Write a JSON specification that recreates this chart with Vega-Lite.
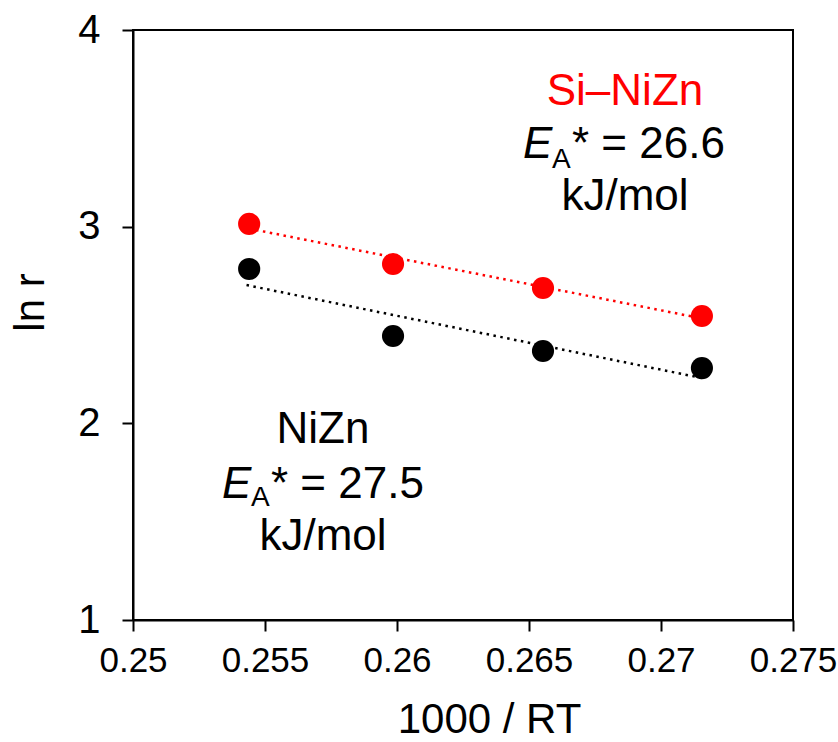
{
  "$schema": "https://vega.github.io/schema/vega-lite/v6.json",
  "width": 660,
  "height": 590,
  "autosize": {"type": "none"},
  "padding": {"left": 133, "top": 30, "right": 45, "bottom": 122},
  "background": "white",
  "config": {
    "font": "Liberation Sans",
    "view": {"stroke": "black", "strokeWidth": 2},
    "axis": {
      "grid": false,
      "domainColor": "black",
      "domainWidth": 2,
      "tickColor": "black",
      "tickWidth": 2,
      "tickSize": 11,
      "labelColor": "black",
      "titleColor": "black",
      "labelFont": "Liberation Sans",
      "titleFont": "Liberation Sans",
      "titleFontWeight": "normal",
      "labelFlush": false,
      "labelOverlap": false,
      "labelBound": false
    }
  },
  "datasets": {
    "points": [
      {"x": 0.2544, "lnr": 3.014, "series": "Si–NiZn"},
      {"x": 0.25985, "lnr": 2.81, "series": "Si–NiZn"},
      {"x": 0.26553, "lnr": 2.688, "series": "Si–NiZn"},
      {"x": 0.27155, "lnr": 2.546, "series": "Si–NiZn"},
      {"x": 0.2544, "lnr": 2.785, "series": "NiZn"},
      {"x": 0.25985, "lnr": 2.444, "series": "NiZn"},
      {"x": 0.26553, "lnr": 2.368, "series": "NiZn"},
      {"x": 0.27155, "lnr": 2.281, "series": "NiZn"}
    ],
    "fits": [
      {"x": 0.2544, "lnr": 2.99, "series": "Si–NiZn"},
      {"x": 0.2716, "lnr": 2.532, "series": "Si–NiZn"},
      {"x": 0.2543, "lnr": 2.703, "series": "NiZn"},
      {"x": 0.2716, "lnr": 2.229, "series": "NiZn"}
    ],
    "labels": [
      {"x": 0.268636, "lnr": 3.619, "text": "Si–NiZn", "role": "name", "series": "Si–NiZn"},
      {"x": 0.264773, "lnr": 3.349, "text": "E", "role": "E", "series": "Si–NiZn"},
      {"x": 0.265871, "lnr": 3.298, "text": "A", "role": "sub", "series": "Si–NiZn"},
      {"x": 0.266629, "lnr": 3.349, "text": "* = 26.6", "role": "rest", "series": "Si–NiZn"},
      {"x": 0.268636, "lnr": 3.085, "text": "kJ/mol", "role": "unit", "series": "Si–NiZn"},
      {"x": 0.257197, "lnr": 1.9, "text": "NiZn", "role": "name", "series": "NiZn"},
      {"x": 0.253371, "lnr": 1.62, "text": "E", "role": "E", "series": "NiZn"},
      {"x": 0.25447, "lnr": 1.58, "text": "A", "role": "sub", "series": "NiZn"},
      {"x": 0.255227, "lnr": 1.62, "text": "* = 27.5", "role": "rest", "series": "NiZn"},
      {"x": 0.257197, "lnr": 1.356, "text": "kJ/mol", "role": "unit", "series": "NiZn"}
    ]
  },
  "encoding": {
    "x": {
      "field": "x",
      "type": "quantitative",
      "scale": {"domain": [0.25, 0.275], "nice": false, "zero": false},
      "axis": {
        "values": [0.25, 0.255, 0.26, 0.265, 0.27, 0.275],
        "format": ".3~f",
        "labelFontSize": 35,
        "labelPadding": 12,
        "title": "1000 / RT",
        "titleFontSize": 42,
        "titleX": 356,
        "titleY": 112,
        "titleAlign": "center",
        "titleBaseline": "alphabetic"
      }
    },
    "y": {
      "field": "lnr",
      "type": "quantitative",
      "scale": {"domain": [1, 4], "nice": false, "zero": false},
      "axis": {
        "values": [1, 2, 3, 4],
        "labelFontSize": 40,
        "labelPadding": 22,
        "title": "ln r",
        "titleFontSize": 42,
        "titleAngle": -90,
        "titleX": -90,
        "titleY": 272,
        "titleAlign": "center",
        "titleBaseline": "alphabetic"
      }
    }
  },
  "layer": [
    {
      "data": {"name": "fits"},
      "mark": {"type": "line", "strokeDash": [2.5, 4.5], "strokeWidth": 2.5, "clip": false},
      "encoding": {
        "color": {"field": "series", "type": "nominal", "scale": {"domain": ["Si–NiZn", "NiZn"], "range": ["#ff0000", "#000000"]}, "legend": null}
      }
    },
    {
      "data": {"name": "points"},
      "mark": {"type": "circle", "size": 490, "opacity": 1},
      "encoding": {
        "color": {"field": "series", "type": "nominal", "scale": {"domain": ["Si–NiZn", "NiZn"], "range": ["#ff0000", "#000000"]}, "legend": null}
      }
    },
    {
      "data": {"name": "labels"},
      "transform": [{"filter": "datum.role === 'name'"}],
      "mark": {"type": "text", "fontSize": 44, "align": "center", "baseline": "alphabetic"},
      "encoding": {
        "text": {"field": "text"},
        "color": {"field": "series", "type": "nominal", "scale": {"domain": ["Si–NiZn", "NiZn"], "range": ["#ff0000", "#000000"]}, "legend": null}
      }
    },
    {
      "data": {"name": "labels"},
      "transform": [{"filter": "datum.role === 'E'"}],
      "mark": {"type": "text", "fontSize": 44, "fontStyle": "italic", "align": "left", "baseline": "alphabetic", "color": "black"},
      "encoding": {"text": {"field": "text"}}
    },
    {
      "data": {"name": "labels"},
      "transform": [{"filter": "datum.role === 'sub'"}],
      "mark": {"type": "text", "fontSize": 28, "align": "left", "baseline": "alphabetic", "color": "black"},
      "encoding": {"text": {"field": "text"}}
    },
    {
      "data": {"name": "labels"},
      "transform": [{"filter": "datum.role === 'rest'"}],
      "mark": {"type": "text", "fontSize": 44, "align": "left", "baseline": "alphabetic", "color": "black"},
      "encoding": {"text": {"field": "text"}}
    },
    {
      "data": {"name": "labels"},
      "transform": [{"filter": "datum.role === 'unit'"}],
      "mark": {"type": "text", "fontSize": 44, "align": "center", "baseline": "alphabetic", "color": "black"},
      "encoding": {"text": {"field": "text"}}
    }
  ]
}
